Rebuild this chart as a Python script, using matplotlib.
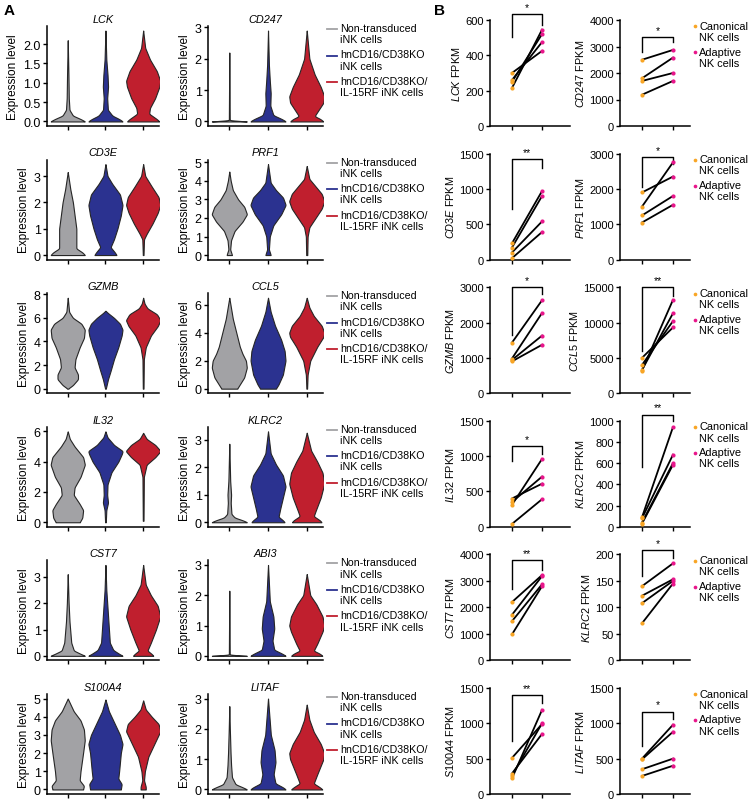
import numpy as np
import matplotlib
matplotlib.use('Agg')
import matplotlib.pyplot as plt

plt.rcParams['font.family'] = ['Liberation Sans', 'DejaVu Sans']
plt.rcParams['mathtext.fontset'] = 'custom'
plt.rcParams['mathtext.rm'] = 'Liberation Sans'
plt.rcParams['mathtext.it'] = 'Liberation Sans:italic'

# ---------------- A: violin outlines, (expression level, relative width) ----------------
groups_A = ['Non-transduced\niNK cells', 'hnCD16/CD38KO\niNK cells', 'hnCD16/CD38KO/\nIL-15RF iNK cells']
colors_A = ['#A2A2A5', '#2B3290', '#C01F2E']

vio_LCK = [
    [(0, 1), (0.06, 0.75), (0.15, 0.3), (0.3, 0.1), (0.6, 0.06), (1.2, 0.04), (2.1, 0)],
    [(0, 1), (0.06, 0.8), (0.15, 0.4), (0.3, 0.14), (0.6, 0.1), (0.9, 0.15), (1.2, 0.12), (1.6, 0.05), (2.35, 0)],
    [(0, 0.95), (0.06, 0.8), (0.2, 0.35), (0.35, 0.4), (0.6, 0.7), (0.9, 0.95), (1.05, 1), (1.3, 0.8), (1.6, 0.4), (1.9, 0.12), (2.35, 0)],
]
vio_CD247 = [
    [(0, 1), (0.03, 0.02), (2.2, 0)],
    [(0, 1), (0.07, 0.8), (0.2, 0.3), (0.5, 0.13), (0.9, 0.15), (1.3, 0.1), (1.8, 0.05), (2.9, 0)],
    [(0, 0.95), (0.07, 0.8), (0.17, 0.45), (0.3, 0.6), (0.6, 0.95), (0.8, 1), (1.1, 0.8), (1.5, 0.45), (2.0, 0.15), (2.9, 0)],
]
vio_CD3E = [
    [(0, 1), (0.1, 0.85), (0.25, 0.5), (0.6, 0.5), (1.0, 0.5), (1.5, 0.4), (2.0, 0.3), (2.5, 0.15), (3.15, 0)],
    [(0, 0.65), (0.1, 0.55), (0.3, 0.3), (0.6, 0.5), (1.0, 0.7), (1.5, 0.9), (1.9, 1.0), (2.3, 0.85), (2.7, 0.4), (3.0, 0.12), (3.45, 0)],
    [(0, 0.02), (0.6, 0.05), (0.8, 0.2), (1.2, 0.55), (1.6, 0.85), (1.9, 1.0), (2.2, 0.9), (2.6, 0.5), (3.0, 0.12), (3.45, 0)],
]
vio_PRF1 = [
    [(0, 0.15), (0.1, 0.12), (0.3, 0.05), (0.8, 0.1), (1.3, 0.3), (1.8, 0.75), (2.2, 1.0), (2.6, 0.85), (3.0, 0.5), (3.5, 0.2), (4.0, 0.08), (4.5, 0)],
    [(0, 0.15), (0.1, 0.12), (0.3, 0.05), (1.0, 0.1), (1.6, 0.3), (2.2, 0.75), (2.7, 1.0), (3.1, 0.85), (3.5, 0.45), (3.9, 0.15), (4.9, 0)],
    [(0, 0.03), (1.0, 0.05), (1.5, 0.15), (2.0, 0.5), (2.5, 0.85), (2.9, 1.0), (3.3, 0.85), (3.7, 0.5), (4.1, 0.15), (4.8, 0)],
]
vio_GZMB = [
    [(0, 0.02), (0.3, 0.3), (0.8, 0.6), (1.2, 0.6), (1.8, 0.4), (2.5, 0.45), (3.5, 0.7), (4.3, 0.95), (5.0, 1.0), (5.5, 0.8), (6.0, 0.3), (6.5, 0.08), (7.7, 0)],
    [(0, 0.02), (0.8, 0.15), (1.5, 0.3), (2.5, 0.5), (3.5, 0.75), (4.5, 0.95), (5.0, 1.0), (5.5, 0.85), (6.0, 0.5), (6.4, 0.15), (6.6, 0)],
    [(0, 0.02), (2.5, 0.04), (3.5, 0.15), (4.5, 0.45), (5.3, 0.85), (5.8, 1.0), (6.3, 0.8), (6.8, 0.25), (7.2, 0.08), (7.7, 0)],
]
vio_CCL5 = [
    [(0, 0.45), (0.3, 0.6), (0.8, 0.85), (1.5, 1.0), (2.0, 0.95), (2.5, 0.75), (3.0, 0.6), (4.0, 0.4), (5.0, 0.2), (6.5, 0)],
    [(0, 0.45), (0.3, 0.6), (1.0, 0.85), (2.0, 1.0), (2.7, 0.95), (3.5, 0.75), (4.5, 0.4), (5.5, 0.15), (6.5, 0)],
    [(0, 0.02), (1.0, 0.05), (2.0, 0.2), (3.0, 0.6), (3.7, 0.95), (4.0, 1.0), (4.5, 0.85), (5.2, 0.4), (5.8, 0.15), (6.5, 0)],
]
vio_IL32 = [
    [(0, 0.7), (0.3, 0.85), (0.8, 0.9), (1.2, 0.7), (1.8, 0.35), (2.3, 0.4), (3.0, 0.75), (3.8, 1.0), (4.3, 0.9), (5.0, 0.4), (5.5, 0.12), (6.0, 0)],
    [(0, 0.02), (0.8, 0.05), (1.3, 0.15), (1.8, 0.1), (2.5, 0.12), (3.3, 0.35), (4.0, 0.75), (4.5, 0.95), (4.7, 1.0), (5.1, 0.5), (5.6, 0.12), (6.0, 0)],
    [(0.1, 0.02), (3.0, 0.04), (3.8, 0.2), (4.3, 0.7), (4.7, 1.0), (5.1, 0.7), (5.5, 0.2), (5.9, 0)],
]
vio_KLRC2 = [
    [(0, 1), (0.07, 0.75), (0.17, 0.3), (0.3, 0.12), (0.7, 0.08), (1.0, 0.1), (1.5, 0.05), (2.85, 0)],
    [(0, 0.95), (0.07, 0.85), (0.2, 0.6), (0.5, 0.7), (0.9, 0.85), (1.3, 1.0), (1.7, 0.85), (2.1, 0.45), (2.5, 0.15), (3.3, 0)],
    [(0, 0.85), (0.07, 0.75), (0.22, 0.4), (0.4, 0.5), (0.9, 0.8), (1.4, 1.0), (1.8, 0.9), (2.2, 0.6), (2.6, 0.25), (3.25, 0)],
]
vio_CST7 = [
    [(0, 1), (0.07, 0.75), (0.2, 0.35), (0.5, 0.2), (0.9, 0.15), (1.3, 0.1), (2.0, 0.05), (3.1, 0)],
    [(0, 1), (0.07, 0.8), (0.22, 0.45), (0.5, 0.25), (1.0, 0.2), (1.5, 0.15), (2.0, 0.1), (2.5, 0.05), (3.45, 0)],
    [(0, 0.6), (0.07, 0.5), (0.2, 0.25), (0.5, 0.45), (1.0, 0.75), (1.5, 1.0), (1.9, 0.85), (2.3, 0.45), (2.7, 0.15), (3.45, 0)],
]
vio_ABI3 = [
    [(0, 1), (0.03, 0.02), (2.15, 0)],
    [(0, 1), (0.07, 0.8), (0.2, 0.35), (0.5, 0.25), (0.9, 0.35), (1.3, 0.3), (1.8, 0.1), (3.0, 0)],
    [(0, 0.9), (0.07, 0.75), (0.17, 0.4), (0.4, 0.6), (0.8, 0.9), (1.0, 1.0), (1.3, 0.9), (1.7, 0.55), (2.0, 0.2), (2.7, 0)],
]
vio_S100A4 = [
    [(0, 0.9), (0.2, 0.95), (0.5, 0.7), (1.0, 0.75), (2.0, 0.9), (2.7, 1.0), (3.3, 0.95), (3.8, 0.75), (4.3, 0.35), (5.0, 0)],
    [(0, 0.9), (0.3, 0.95), (0.6, 0.75), (1.0, 0.8), (2.0, 0.9), (2.5, 1.0), (3.0, 0.85), (3.7, 0.5), (4.3, 0.2), (4.95, 0)],
    [(0, 0.15), (0.15, 0.15), (0.5, 0.05), (1.0, 0.1), (1.8, 0.3), (2.5, 0.65), (3.2, 1.0), (3.6, 0.9), (4.0, 0.5), (4.4, 0.15), (4.9, 0)],
]
vio_LITAF = [
    [(0, 1), (0.07, 0.75), (0.17, 0.35), (0.4, 0.15), (0.8, 0.1), (1.2, 0.07), (2.0, 0.03), (2.75, 0)],
    [(0, 0.95), (0.07, 0.8), (0.2, 0.4), (0.5, 0.3), (0.9, 0.4), (1.3, 0.35), (1.8, 0.15), (3.0, 0)],
    [(0, 0.9), (0.07, 0.75), (0.2, 0.4), (0.5, 0.6), (1.0, 0.95), (1.2, 1.0), (1.5, 0.8), (1.9, 0.4), (2.3, 0.15), (2.8, 0)],
]

violin_genes = ['LCK', 'CD247', 'CD3E', 'PRF1', 'GZMB', 'CCL5',
                'IL32', 'KLRC2', 'CST7', 'ABI3', 'S100A4', 'LITAF']
violin_data = [vio_LCK, vio_CD247, vio_CD3E, vio_PRF1, vio_GZMB, vio_CCL5,
               vio_IL32, vio_KLRC2, vio_CST7, vio_ABI3, vio_S100A4, vio_LITAF]
violin_ticks = [[0, 0.5, 1.0, 1.5, 2.0], [0, 1, 2, 3], [0, 1, 2, 3], [0, 1, 2, 3, 4, 5],
                [0, 2, 4, 6, 8], [0, 2, 4, 6], [0, 2, 4, 6], [0, 1, 2, 3],
                [0, 1, 2, 3], [0, 1, 2, 3], [0, 1, 2, 3, 4, 5], [0, 1, 2, 3]]

# ---------------- B: paired FPKM values (4 donors) ----------------
groups_B = ['Canonical\nNK cells', 'Adaptive\nNK cells']
colors_B = ['#F8A525', '#E8168B']
fpkm_genes = ['LCK', 'CD247', 'CD3E', 'PRF1', 'GZMB', 'CCL5',
              'IL32', 'KLRC2', 'CST7', 'KLRC2', 'S100A4', 'LITAF']
canonical = [[300, 260, 250, 215], [2500, 1800, 1700, 1180], [230, 170, 100, 20],
             [1900, 1500, 1250, 1050], [1430, 980, 940, 900], [5000, 4000, 3300, 3200],
             [400, 350, 310, 40], [90, 80, 40, 30], [2200, 1720, 1480, 980],
             [140, 122, 108, 70], [510, 290, 260, 220], [500, 490, 350, 255]]
adaptive = [[425, 475, 520, 545], [2870, 2580, 2000, 1700], [970, 900, 540, 390],
            [2350, 2750, 1800, 1550], [2630, 2270, 1630, 1370], [9300, 10200, 11300, 13200],
            [610, 710, 960, 390], [940, 680, 600, 585], [3220, 3180, 2870, 2800],
            [183, 153, 150, 145], [990, 850, 1000, 1190], [980, 880, 500, 400]]
fpkm_top = [600, 4000, 1500, 3000, 3000, 15000, 1500, 1000, 4000, 200, 1500, 1500]
fpkm_step = [200, 1000, 500, 1000, 1000, 5000, 500, 200, 1000, 50, 500, 500]
stars = ['*', '*', '**', '*', '*', '**', '*', '**', '**', '*', '**', '*']
# bracket: top level, left leg end, right leg end
brackets = [(634, 504, 572), (3360, 2790, 3170), (1420, 715, 1290), (2910, 2060, 2710),
            (3000, 1640, 2800), (15000, 6000, 13700), (1146, 934, 1033), (1058, 563, 1000),
            (3770, 2680, 3430), (208, 160, 194), (1403, 750, 1290), (1167, 680, 1055)]


def outline(prof):
    y = np.array([p[0] for p in prof], float)
    w = np.array([p[1] for p in prof], float)
    yy = np.linspace(y[0], y[-1], 300)
    ww = np.interp(yy, y, w)
    k = 7
    ww = np.convolve(np.pad(ww, k // 2, mode='edge'), np.ones(k) / k, mode='valid')
    ww[-1] = 0
    return yy, ww / ww.max()


def style(ax):
    for s in ['top', 'right']:
        ax.spines[s].set_visible(False)
    for s in ['left', 'bottom']:
        ax.spines[s].set_linewidth(1.1)
    ax.tick_params(length=3, width=1, pad=1.5)


W, H = 750, 804
fig = plt.figure(figsize=(W / 100, H / 100), dpi=100)
row_bottom = np.linspace(127, 795, 6)

fig.text(4 / W, 1 - 4 / H, 'A', fontsize=11, fontweight='bold', va='top')
fig.text(434 / W, 1 - 4 / H, 'B', fontsize=11, fontweight='bold', va='top')

colA = [(47, 112), (208, 115)]
colB = [(490, 80, (-0.73, 1.93)), (620, 70, (-0.71, 1.55))]

for i in range(12):
    r, c = divmod(i, 2)
    b = row_bottom[r]

    # ---- panel A violin ----
    left, width = colA[c]
    ax = fig.add_axes([left / W, 1 - b / H, width / W, 100 / H])
    style(ax)
    gmax = 0
    for j, prof in enumerate(violin_data[i]):
        yy, ww = outline(prof)
        gmax = max(gmax, yy.max())
        ax.fill_betweenx(yy, j + 1 - 0.45 * ww, j + 1 + 0.45 * ww,
                         facecolor=colors_A[j], edgecolor='#262626', linewidth=0.8)
    ax.set_ylim(-0.05 * gmax, 1.05 * gmax)
    ax.set_xlim(0.45, 3.42)
    ax.set_xticks([1, 2, 3])
    ax.set_xticklabels([])
    ax.set_yticks(violin_ticks[i])
    if i == 0:
        ax.set_yticklabels(['%.1f' % t for t in violin_ticks[i]])
    ax.tick_params(axis='y', labelsize=9)
    ax.set_ylabel('Expression level', fontsize=8.5, labelpad=3)
    ax.set_title(violin_genes[i], fontsize=7.8, style='italic', pad=3)
    if c == 1:
        for j, lab in enumerate(groups_A):
            y = 0.97 - j * 0.265
            ax.plot([1.035, 1.12], [y, y], color=colors_A[j], lw=1.3,
                    transform=ax.transAxes, clip_on=False)
            ax.text(1.15, y + 0.06, lab, transform=ax.transAxes, fontsize=7.7,
                    va='top', ha='left', linespacing=1.15)

    # ---- panel B paired plot ----
    left, width, xl = colB[c]
    bx = fig.add_axes([left / W, 1 - b / H, width / W, 106 / H])
    style(bx)
    for p0, p1 in zip(canonical[i], adaptive[i]):
        bx.plot([0, 1], [p0, p1], color='black', lw=1.3, zorder=2)
    bx.scatter(np.zeros(4), canonical[i], s=9, color=colors_B[0], zorder=3, linewidths=0)
    bx.scatter(np.ones(4), adaptive[i], s=9, color=colors_B[1], zorder=3, linewidths=0)
    top = fpkm_top[i]
    bx.set_ylim(0, top)
    bx.set_yticks(np.arange(0, top + 1, fpkm_step[i]))
    bx.set_xlim(*xl)
    bx.set_xticks([0, 1])
    bx.set_xticklabels([])
    bx.tick_params(axis='y', labelsize=8)
    bx.set_ylabel(r'$\mathit{%s}$ FPKM' % fpkm_genes[i], fontsize=7.8, labelpad=2)
    bt, bl, br = brackets[i]
    bx.plot([0, 0, 1, 1], [bl, bt, bt, br], color='black', lw=1, clip_on=False)
    bx.text(0.5, bt + 0.02 * top, stars[i], ha='center', va='bottom', fontsize=7.5)
    if c == 1:
        for j, lab in enumerate(groups_B):
            y = 0.94 - j * 0.245
            bx.scatter([1.07], [y], s=7, color=colors_B[j], transform=bx.transAxes,
                       clip_on=False, linewidths=0)
            bx.text(1.13, y + 0.055, lab, transform=bx.transAxes, fontsize=7.9,
                    va='top', ha='left', linespacing=1.15)

fig.savefig('out.png', dpi=100)
